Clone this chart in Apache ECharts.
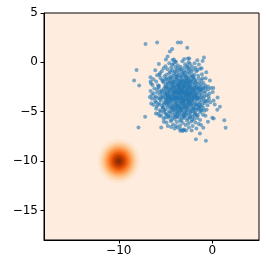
<!DOCTYPE html>
<html>
<head>
<meta charset="utf-8">
<script src="https://cdn.jsdelivr.net/npm/echarts@6/dist/echarts.min.js"></script>
<style>html,body{margin:0;padding:0;background:#fff}#c{width:266px;height:268px}</style>
</head>
<body>
<div id="c"></div>
<script>
// ---- data ----
const xTicks = [-10, 0];
const yTicks = [-15, -10, -5, 0, 5];
const xRange = [-18, 5];
const yRange = [-18, 5];

// density blob (contour rings), centre and ring radii in data units
const blobCenter = [-10, -10];
const blobRadii = [2.25, 1.98, 1.77, 1.57, 1.4, 1.24, 1.08, 0.93, 0.77, 0.6, 0.42, 0.22];
const blobColors = ['#fee5ce', '#fdd9b5', '#fdc997', '#fdb677', '#fda057', '#fd8b3b',
                    '#f77623', '#ec6210', '#dc4d05', '#c33e02', '#a33403', '#8a2c04'];

// scatter points (x, y)
const points = [
[-7.14,1.86],[-5.9,2.0],[-3.68,2.0],[-3.35,2.0],[-4.29,1.35],[-4.53,1.1],[-4.78,0.58],[-4.24,0.24],[-3.96,0.07],
[-8.1,-0.77],[-8.36,-1.85],[-7.82,-2.35],[-5.71,-0.16],[-4.96,0.3],[-4.14,-0.16],[-6.6,-1.5],[-6.6,-1.95],[-6.39,-2.3],[-5.64,-1.27],
[-2.68,1.48],[-0.89,0.5],[-1.03,0.14],[-1.43,-0.23],[-2.46,0.4],[-2.53,0.0],[-1.14,-0.6],[-1.6,-0.77],[-0.64,-1.0],[-0.71,-1.6],
[-0.25,-1.85],[0.11,-2.6],[-0.46,-2.45],
[-7.18,-5.52],[-7.89,-6.6],[-5.46,-6.6],[-4.75,-6.46],[-6.53,-4.17],[-6.68,-3.5],[-6.03,-5.18],[-5.18,-6.02],[-4.03,-6.7],[-3.43,-6.93],
[1.29,-5.86],[1.43,-6.63],[0.54,-4.8],[0.82,-4.5],[0.26,-4.27],[0.15,-5.69],[-0.68,-7.94],[-1.75,-7.78],[-1.32,-7.2],[-2.21,-6.9],
[-3.03,-6.87],[-0.96,-6.63],[0.0,-5.62],[-0.46,-6.02],[0.57,-3.56],[0.14,-3.86],
// band y 0.5..-0.5
[-4.1,0.3],[-3.2,0.1],[-2.6,0.4],[-2.9,-0.2],[-3.7,-0.3],[-4.6,-0.1],[-2.2,-0.4],[-1.6,0.2],[-3.4,-0.45],[-2.7,-0.35],
[-5.0,-0.4],[-4.3,-0.25],[-1.9,-0.1],[-3.0,0.35],[-2.4,-0.15],[-3.9,0.05],
// band -0.5..-1.5
[-5.9,-1.3],[-5.4,-0.9],[-5.1,-1.4],[-4.8,-0.7],[-4.6,-1.1],[-4.4,-0.55],[-4.2,-1.35],[-4.0,-0.9],[-3.85,-1.2],[-3.7,-0.6],
[-3.55,-1.0],[-3.4,-1.45],[-3.3,-0.75],[-3.15,-1.1],[-3.0,-0.55],[-2.9,-1.3],[-2.75,-0.85],[-2.6,-1.15],[-2.5,-0.6],[-2.35,-1.4],
[-2.2,-0.95],[-2.05,-0.7],[-1.9,-1.25],[-1.7,-0.9],[-1.5,-1.35],[-1.3,-0.65],[-1.1,-1.2],[-4.9,-1.25],[-5.6,-1.1],[-4.5,-1.45],
[-3.95,-0.5],[-3.6,-1.3],[-3.1,-0.9],[-2.8,-1.45],[-2.45,-1.0],[-4.3,-0.8],[-3.45,-0.7],[-2.15,-1.3],[-1.8,-0.55],[-6.1,-0.8],
[-5.2,-0.6],[-3.75,-1.4],[-2.65,-0.5],[-4.1,-1.1],[-3.25,-1.25],
// band -1.5..-2.5
[-6.3,-1.72],[-5.8,-2.31],[-5.55,-1.58],[-5.2,-2.05],[-5.05,-2.44],[-4.9,-1.66],[-4.7,-2.18],[-4.55,-1.91],[-4.4,-2.38],[-4.3,-1.55],
[-4.15,-2.02],[-4.05,-1.79],[-3.95,-2.27],[-3.82,-1.63],[-3.7,-2.11],[-3.62,-2.46],[-3.5,-1.84],[-3.4,-2.2],[-3.3,-1.57],[-3.2,-2.36],
[-3.1,-1.95],[-3.0,-2.14],[-2.92,-1.7],[-2.85,-2.42],[-2.75,-1.88],[-2.65,-2.25],[-2.55,-1.6],[-2.45,-2.05],[-2.35,-2.39],[-2.25,-1.77],
[-2.12,-2.17],[-2.0,-1.53],[-1.9,-2.31],[-1.78,-1.96],[-1.6,-2.2],[-1.45,-1.65],[-1.3,-2.45],[-1.15,-1.85],[-0.95,-2.1],[-0.75,-2.35],
[-6.55,-2.15],[-6.0,-1.93],[-5.7,-2.4],[-5.35,-1.8],[-4.8,-2.0],[-4.62,-1.6],[-4.22,-2.28],[-3.88,-1.98],[-3.55,-2.33],[-3.25,-1.8],
[-3.05,-2.48],[-2.82,-2.03],[-2.6,-1.76],[-2.4,-2.2],[-2.18,-1.95],[-1.95,-1.68],[-1.7,-2.42],[-1.4,-2.05],[-1.05,-1.62],[-4.95,-2.25],
[-4.48,-2.05],[-3.75,-1.68],[-3.35,-2.05],[-2.98,-1.85],[-2.5,-2.48],[-2.3,-1.9],[-4.1,-2.45],[-3.15,-2.25],[-2.7,-1.55],[-1.85,-2.1],
// band -2.5..-3.5
[-6.6,-2.9],[-6.45,-3.3],[-6.2,-2.65],[-6.05,-3.45],[-5.9,-3.05],[-5.75,-2.55],[-5.6,-3.25],[-5.45,-2.85],[-5.3,-3.4],[-5.2,-2.7],
[-5.05,-3.15],[-4.95,-2.58],[-4.85,-2.95],[-4.75,-3.38],[-4.65,-2.72],[-4.55,-3.1],[-4.45,-2.55],[-4.38,-3.48],[-4.3,-2.88],[-4.2,-3.22],
[-4.12,-2.62],[-4.05,-3.02],[-3.95,-3.42],[-3.88,-2.78],[-3.8,-3.12],[-3.72,-2.52],[-3.65,-3.33],[-3.58,-2.92],[-3.5,-3.18],[-3.42,-2.66],
[-3.35,-3.46],[-3.28,-3.0],[-3.2,-2.74],[-3.12,-3.28],[-3.05,-2.57],[-2.98,-3.1],[-2.9,-2.86],[-2.82,-3.4],[-2.75,-2.6],[-2.68,-3.2],
[-2.6,-2.95],[-2.52,-3.36],[-2.45,-2.7],[-2.38,-3.08],[-2.3,-2.53],[-2.22,-3.44],[-2.15,-2.84],[-2.08,-3.16],[-2.0,-2.62],[-1.92,-3.3],
[-1.85,-2.98],[-1.75,-2.72],[-1.65,-3.4],[-1.55,-3.05],[-1.45,-2.58],[-1.35,-3.22],[-1.25,-2.85],[-1.12,-3.35],[-1.0,-2.68],[-0.88,-3.08],
[-0.75,-2.92],[-0.6,-3.3],[-0.45,-2.75],[-0.3,-3.15],[-0.15,-2.6],[0.05,-3.0],[-6.3,-3.12],[-5.55,-2.98],[-5.0,-3.32],[-4.7,-3.0],
[-4.35,-2.7],[-4.0,-2.85],[-3.78,-3.45],[-3.55,-2.6],[-3.3,-3.15],[-3.1,-2.9],[-2.88,-3.05],[-2.65,-2.75],[-2.4,-3.25],[-2.2,-3.05],
[-1.95,-2.9],[-1.7,-3.15],[-1.5,-2.8],[-1.2,-3.0],[-0.95,-2.55],[-4.5,-3.3],[-4.15,-3.4],[-3.9,-2.98],[-3.6,-3.1],[-3.4,-2.82],
[-3.0,-3.38],[-2.78,-2.98],[-2.55,-3.12],[-2.35,-2.88],[-5.35,-3.08],[-4.85,-3.2],[-1.8,-3.45],[-3.68,-2.75],
// band -3.5..-4.5
[-6.45,-3.7],[-6.3,-4.3],[-6.1,-3.95],[-5.95,-4.45],[-5.8,-3.6],[-5.65,-4.15],[-5.5,-3.85],[-5.38,-4.4],[-5.25,-3.55],[-5.12,-4.05],
[-5.0,-3.78],[-4.9,-4.32],[-4.8,-3.62],[-4.7,-4.12],[-4.6,-3.92],[-4.5,-4.48],[-4.42,-3.68],[-4.32,-4.22],[-4.25,-3.86],[-4.15,-4.4],
[-4.05,-3.58],[-3.98,-4.08],[-3.9,-3.8],[-3.82,-4.35],[-3.75,-3.65],[-3.68,-4.18],[-3.6,-3.95],[-3.52,-4.45],[-3.45,-3.72],[-3.38,-4.02],
[-3.3,-3.55],[-3.22,-4.28],[-3.15,-3.88],[-3.08,-4.12],[-3.0,-3.66],[-2.92,-4.42],[-2.85,-3.98],[-2.78,-3.6],[-2.7,-4.25],[-2.62,-3.82],
[-2.55,-4.05],[-2.45,-3.55],[-2.38,-4.38],[-2.3,-3.9],[-2.2,-4.15],[-2.12,-3.7],[-2.02,-4.48],[-1.95,-3.95],[-1.85,-3.62],[-1.75,-4.2],
[-1.65,-3.85],[-1.55,-4.4],[-1.45,-3.58],[-1.32,-4.05],[-1.2,-3.78],[-1.08,-4.3],[-0.95,-3.65],[-0.82,-4.12],[-0.68,-3.9],[-0.5,-4.35],
[-0.35,-3.72],[-0.2,-4.05],[-6.0,-4.05],[-5.6,-3.7],[-5.2,-4.25],[-4.75,-3.8],[-4.4,-4.0],[-4.1,-3.75],[-3.85,-4.0],[-3.55,-3.75],
[-3.25,-4.0],[-2.95,-3.82],[-2.65,-3.7],[-2.4,-4.1],[-2.15,-3.88],[-1.9,-4.3],[-1.6,-3.7],[-1.25,-4.45],[-0.9,-3.95],[-3.7,-4.4],
[-3.4,-4.2],[-3.05,-3.92],[-2.8,-4.3],[-2.5,-3.85],[-4.55,-3.6],[-4.95,-4.1],[-1.4,-4.22],[-2.0,-3.6],
// band -4.5..-5.5
[-6.0,-4.7],[-5.8,-5.2],[-5.6,-4.85],[-5.45,-5.4],[-5.3,-4.6],[-5.15,-5.05],[-5.0,-4.78],[-4.88,-5.3],[-4.75,-4.55],[-4.62,-4.95],
[-4.5,-5.45],[-4.4,-4.72],[-4.28,-5.12],[-4.15,-4.88],[-4.05,-5.35],[-3.95,-4.62],[-3.85,-5.0],[-3.75,-5.48],[-3.65,-4.8],[-3.55,-5.18],
[-3.45,-4.58],[-3.35,-5.32],[-3.25,-4.92],[-3.15,-4.68],[-3.05,-5.1],[-2.95,-5.42],[-2.85,-4.75],[-2.75,-5.02],[-2.65,-4.55],[-2.55,-5.28],
[-2.45,-4.88],[-2.35,-5.15],[-2.25,-4.65],[-2.15,-5.45],[-2.05,-4.95],[-1.95,-4.7],[-1.82,-5.22],[-1.7,-4.85],[-1.55,-5.38],[-1.42,-4.62],
[-1.3,-5.05],[-1.15,-4.8],[-1.0,-5.3],[-0.85,-4.9],[-5.5,-5.0],[-4.95,-5.2],[-4.2,-4.55],[-3.9,-5.2],[-3.5,-4.95],[-3.1,-5.3],
[-2.7,-4.8],[-2.3,-5.0],[-1.9,-5.1],[-1.5,-4.75],[-3.3,-4.7],[-2.9,-5.05],[-4.55,-5.1],[-0.72,-5.4],
// band -5.5..-7
[-5.2,-5.7],[-4.9,-6.1],[-4.7,-5.6],[-4.45,-5.95],[-4.2,-6.3],[-4.0,-5.75],[-3.8,-6.05],[-3.6,-5.6],[-3.45,-6.4],[-3.3,-5.85],
[-3.15,-6.15],[-3.0,-5.65],[-2.85,-6.35],[-2.7,-5.9],[-2.55,-6.2],[-2.4,-5.6],[-2.25,-6.0],[-2.1,-6.45],[-1.95,-5.75],[-1.8,-6.1],
[-1.6,-5.65],[-1.45,-6.25],[-1.3,-5.85],[-3.9,-6.45],[-3.7,-6.6],[-3.4,-6.75],[-3.05,-6.8],[-2.5,-6.6],[-2.8,-6.9],[-4.4,-6.55],
[-3.2,-6.95],[-1.7,-6.7],[-1.2,-6.35],
// extra core points
[-5.3,-1.9],[-4.85,-2.6],[-4.45,-1.7],[-4.05,-2.55],[-3.6,-1.9],[-3.15,-2.6],[-2.7,-2.1],[-2.25,-2.6],[-1.8,-1.8],[-1.35,-2.7],
[-5.45,-3.55],[-5.1,-2.9],[-4.6,-3.45],[-4.25,-3.05],[-3.85,-3.6],[-3.45,-3.3],[-3.05,-3.7],[-2.65,-3.3],[-2.2,-3.65],[-1.75,-3.3],
[-1.3,-3.55],[-0.85,-3.45],[-5.25,-4.6],[-4.8,-4.0],[-4.35,-4.6],[-3.95,-4.25],[-3.5,-4.6],[-3.1,-4.45],[-2.65,-4.55],[-2.25,-4.3],
[-1.8,-4.65],[-1.35,-4.5],[-0.95,-4.6],[-4.7,-5.4],[-4.2,-5.6],[-3.7,-5.3],[-3.25,-5.6],[-2.8,-5.3],[-2.35,-5.55],[-1.9,-5.4],
[-5.75,-4.3],[-5.9,-2.75],[-6.15,-3.6],[-0.55,-3.95],[-0.4,-3.45],[-0.7,-2.6],[-3.8,-0.85],[-2.95,-1.05],[-2.4,-0.75],[-4.5,-0.95],
[-4.75,-2.4],[-4.3,-2.15],[-3.9,-1.45],[-3.45,-2.5],[-3.0,-1.4],[-2.6,-2.4],[-2.1,-1.45],[-1.65,-2.6],[-1.2,-2.25],[-5.0,-1.75],
[-4.95,-3.7],[-4.55,-2.8],[-4.1,-3.55],[-3.7,-3.0],[-3.25,-3.6],[-2.85,-3.25],[-2.45,-3.5],[-2.05,-2.75],[-1.6,-3.6],[-1.15,-2.75],
[-5.15,-4.85],[-4.65,-4.25],[-4.2,-4.8],[-3.8,-4.55],[-3.35,-4.85],[-2.95,-4.6],[-2.5,-4.25],[-2.1,-4.75],[-1.65,-4.3],[-1.2,-4.9],
[-4.35,-5.85],[-3.9,-5.5],[-3.45,-5.95],[-3.0,-5.45],[-2.6,-5.7],[-2.15,-5.85],[-1.65,-5.3],[-5.0,-5.6],[-5.65,-5.4],[-0.6,-4.8],
[-3.55,-2.2],[-3.15,-3.05],[-3.6,-3.6],[-3.1,-4.2],[-2.7,-2.8],[-4.0,-3.15],[-3.75,-2.35],[-2.3,-3.2],[-3.35,-2.9],[-2.95,-2.3],
[-4.4,-3.75],[-2.55,-3.95],[-3.9,-4.75],[-2.0,-3.35],[-4.85,-3.4],[-3.3,-1.95],[-2.5,-1.95],[-4.15,-1.95],[-1.9,-2.55],[-3.7,-5.0]
];

// ---- chart ----
const fmt = v => String(v).replace('-', '\u2212');
const labelStyle = { fontFamily: 'DejaVu Sans', fontSize: 12, color: '#000' };
const chart = echarts.init(document.getElementById('c'), null, { renderer: 'canvas' });
chart.setOption({
  animation: false,
  backgroundColor: '#fff',
  grid: {
    left: 44, right: 7, top: 13, bottom: 28,
    outerBoundsMode: 'none',
    show: true, backgroundColor: '#feeddf', borderColor: '#000', borderWidth: 1
  },
  xAxis: {
    type: 'value', min: xRange[0], max: xRange[1],
    splitLine: { show: false },
    axisLine: { show: true, onZero: false, lineStyle: { color: '#000', width: 1 } },
    axisTick: { show: true, inside: false, length: 3.5, customValues: xTicks, lineStyle: { color: '#000' } },
    axisLabel: Object.assign({ margin: 5, customValues: xTicks, formatter: fmt }, labelStyle)
  },
  yAxis: {
    type: 'value', min: yRange[0], max: yRange[1],
    splitLine: { show: false },
    axisLine: { show: true, onZero: false, lineStyle: { color: '#000', width: 1 } },
    axisTick: { show: true, inside: false, length: 3.5, customValues: yTicks, lineStyle: { color: '#000' } },
    axisLabel: Object.assign({ margin: 6, customValues: yTicks, formatter: fmt }, labelStyle)
  },
  series: [
    {
      type: 'custom',
      z: 1,
      clip: true,
      encode: { x: 0, y: 1 },
      data: blobRadii.map((r, i) => [blobCenter[0], blobCenter[1], r, i]),
      renderItem: function (params, api) {
        const c = api.coord([api.value(0), api.value(1)]);
        const s = api.size([api.value(2), api.value(2)]);
        return {
          type: 'ellipse',
          shape: { cx: c[0], cy: c[1], rx: s[0], ry: s[1] },
          style: { fill: blobColors[api.value(3)] }
        };
      }
    },
    {
      type: 'scatter',
      z: 2,
      symbol: 'circle',
      symbolSize: 4,
      data: points,
      itemStyle: { color: '#1f77b4', opacity: 0.6 }
    }
  ]
});
</script>
</body>
</html>
